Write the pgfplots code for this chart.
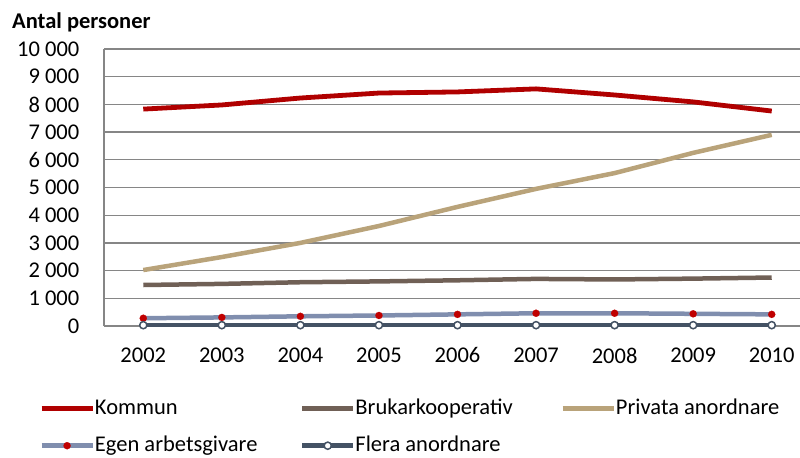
\documentclass[border=0pt]{standalone}
\usepackage{fontspec}
\setmainfont{Carlito}
\usepackage{pgfplots}
\pgfplotsset{compat=1.18}
\definecolor{kommun}{RGB}{176,0,0}
\definecolor{brukar}{RGB}{112,96,86}
\definecolor{privata}{RGB}{185,163,122}
\definecolor{egen}{RGB}{128,142,174}
\definecolor{egenmark}{RGB}{192,0,0}
\definecolor{flera}{RGB}{68,82,100}
\definecolor{gridc}{RGB}{134,134,134}
\begin{document}
\fontsize{22.5bp}{27bp}\selectfont
\begin{tikzpicture}
\begin{axis}[
  at={(104bp,132bp)}, anchor=south west,
  scale only axis, width=696bp, height=277bp,
  xmin=-0.5, xmax=8.36, ymin=0, ymax=10000,
  xtick={0,1,2,3,4,5,6,7,8},
  xticklabels={2002,2003,2004,2005,2006,2007,2008,2009,2010},
  ytick={0,1000,2000,3000,4000,5000,6000,7000,8000,9000,10000},
  scaled y ticks=false,
  axis lines*=left,
  axis line style={draw=gridc, line width=1.3bp},
  ymajorgrids, grid style={draw=gridc, line width=1.3bp},
  major tick length=0pt,
  /pgf/number format/assume math mode=true,
  /pgf/number format/1000 sep={\ },
  yticklabel style={xshift=-17bp},
  xticklabel style={yshift=-14bp},
  clip=false,
  legend columns=3,
  legend cell align=left,
  legend style={at={(rel axis cs:0,0)}, anchor=north west, xshift=-65bp, yshift=-73bp,
    draw=none, fill=none, inner sep=0pt, row sep=18bp, column sep=0pt,
    nodes={inner sep=0pt}},
  legend image code/.code={\draw[mark repeat=2, mark phase=2, #1] plot coordinates {(0bp,0bp) (25.5bp,0bp) (51bp,0bp)};},
]
\addplot[kommun, line width=4.8bp, no marks] coordinates {(0,7830) (1,7980) (2,8230) (3,8410) (4,8450) (5,8560) (6,8340) (7,8090) (8,7760)};
\addlegendentry{\makebox[205bp][l]{Kommun}}
\addplot[brukar, line width=4.5bp, no marks] coordinates {(0,1480) (1,1520) (2,1580) (3,1610) (4,1650) (5,1700) (6,1680) (7,1710) (8,1750)};
\addlegendentry{\makebox[205bp][l]{Brukarkooperativ}}
\addplot[privata, line width=4.5bp, no marks] coordinates {(0,2020) (1,2490) (2,3000) (3,3610) (4,4300) (5,4950) (6,5520) (7,6250) (8,6900)};
\addlegendentry{\makebox[190bp][l]{Privata anordnare}}
\addplot[egen, line width=4.5bp, mark=*, mark size=3.6bp, mark options={draw=egenmark, fill=egenmark, line width=0.1bp}] coordinates {(0,280) (1,310) (2,350) (3,380) (4,420) (5,460) (6,460) (7,440) (8,420)};
\addlegendentry{\makebox[205bp][l]{Egen arbetsgivare}}
\addplot[flera, line width=4.5bp, mark=*, mark size=3.6bp, mark options={draw=flera, fill=white, line width=1.5bp}] coordinates {(0,30) (1,30) (2,30) (3,30) (4,30) (5,30) (6,30) (7,30) (8,30)};
\addlegendentry{\makebox[205bp][l]{Flera anordnare}}
\end{axis}
\node[anchor=base west, inner sep=0pt, font=\bfseries] at (12bp,429bp) {Antal personer};
\pgfresetboundingbox
\path (0,0) rectangle (800bp,458bp);
\end{tikzpicture}
\end{document}
